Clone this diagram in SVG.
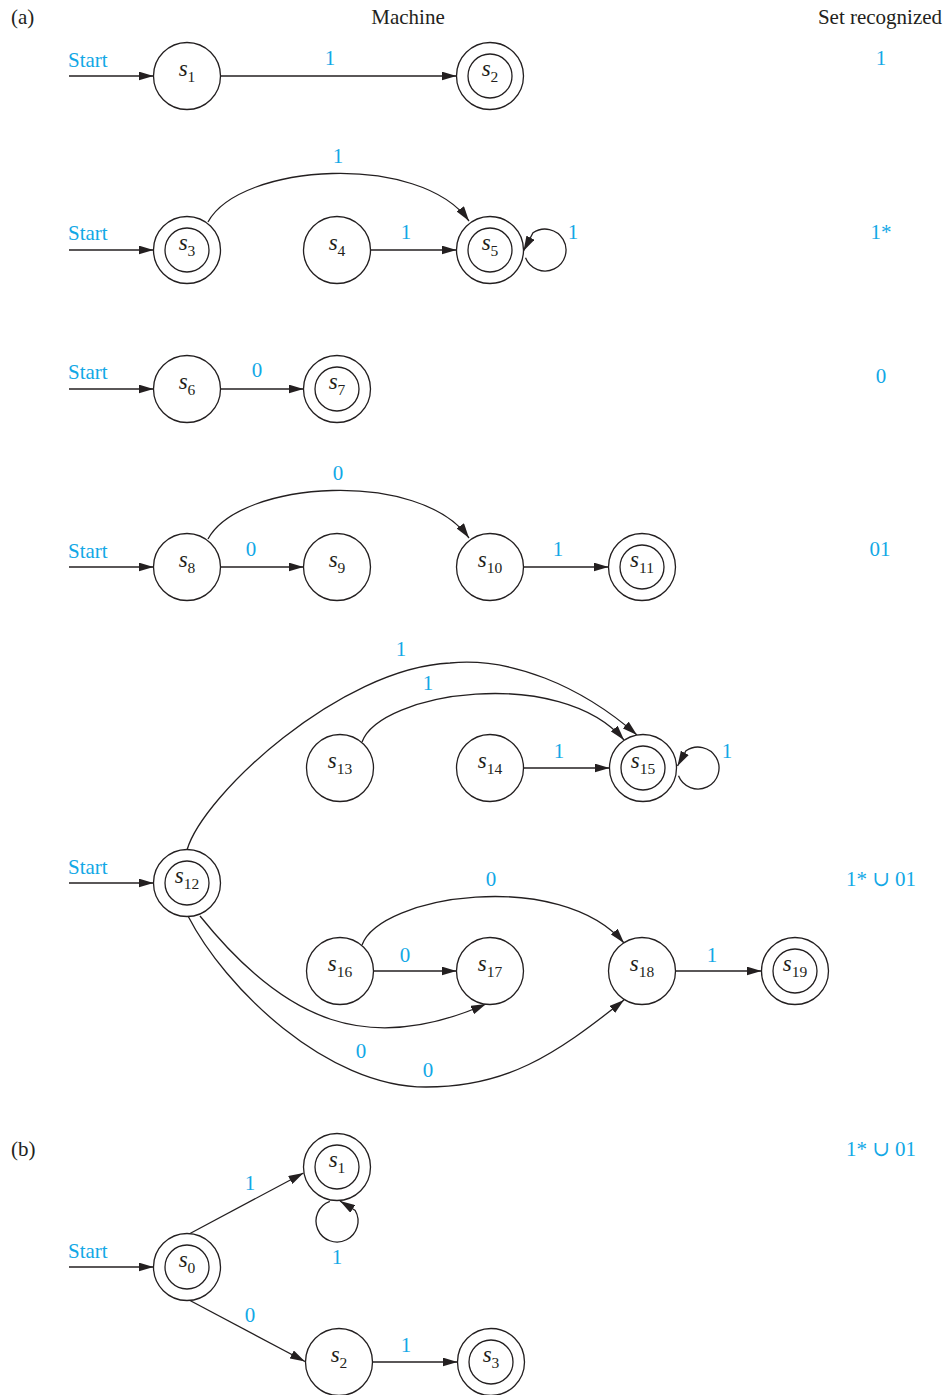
<svg xmlns="http://www.w3.org/2000/svg" width="950" height="1395" viewBox="0 0 950 1395">
<defs>
<marker id="a" markerWidth="15" markerHeight="9" refX="15" refY="4.5" orient="auto" markerUnits="userSpaceOnUse"><path d="M0,0 L15,4.5 L0,9 z" fill="#231f20"/></marker>
<style>
.e{fill:none;stroke:#231f20;stroke-width:1.3;marker-end:url(#a)}
.c{fill:#fff;stroke:#231f20;stroke-width:1.3}
.i{fill:none;stroke:#231f20;stroke-width:1.3}
.t{font-family:"Liberation Serif","DejaVu Serif",serif;font-size:21px;fill:#231f20}
.l{font-family:"Liberation Serif","DejaVu Serif",serif;font-size:21px;fill:#12a8e6;text-anchor:middle}
.s{font-family:"Liberation Serif","DejaVu Serif",serif;font-size:21px;fill:#12a8e6}
.n{font-family:"Liberation Serif","DejaVu Serif",serif;font-size:23px;fill:#231f20;text-anchor:middle}
.n .v{font-style:italic}
.n .b{font-size:15.5px}
</style>
</defs>
<rect width="950" height="1395" fill="#fff"/>
<g id="headers">
<text class="t" x="11" y="24">(a)</text>
<text class="t" x="408" y="24" text-anchor="middle">Machine</text>
<text class="t" x="880" y="24" text-anchor="middle">Set recognized</text>
<text class="t" x="11" y="1156">(b)</text>
</g>
<g id="sets">
<text class="l" x="881" y="65">1</text>
<text class="l" x="881" y="239">1*</text>
<text class="l" x="881" y="383">0</text>
<text class="l" x="880" y="556">01</text>
<text class="l" x="881" y="886">1* ∪ 01</text>
<text class="l" x="881" y="1156">1* ∪ 01</text>
</g>
<g id="connectors">
<path class="e" d="M69,76 H153.5"/>
<path class="e" d="M220.5,76 H456.5"/>
<path class="e" d="M69,250 H153.5"/>
<path class="e" d="M208,222 C240,163 420,152 469,221"/>
<path class="e" d="M370.5,250 H456.5"/>
<path class="e" d="M525.5,257.8 A21,21 0 1,0 533,232.8 L523.5,251"/>
<path class="e" d="M69,389 H153.5"/>
<path class="e" d="M220.5,389 H303.5"/>
<path class="e" d="M69,567 H153.5"/>
<path class="e" d="M220.5,567 H303.5"/>
<path class="e" d="M208,539 C240,480 420,469 469,538"/>
<path class="e" d="M523.5,567 H608.5"/>
<path class="e" d="M187,850 C203,795 340,668 450,663 C510,657 580,685 637,735"/>
<path class="e" d="M362,742 C380,692 560,665 624,740"/>
<path class="e" d="M523.5,768 H609.5"/>
<path class="e" d="M678.5,775.8 A21,21 0 1,0 686,750.8 L677.5,766"/>
<path class="e" d="M69,883 H153.5"/>
<path class="e" d="M373.5,971 H456.5"/>
<path class="e" d="M362,945 C380,895 560,868 624,943"/>
<path class="e" d="M675.5,971 H761.5"/>
<path class="e" d="M200,916 C285,1022 368,1056 486,1004"/>
<path class="e" d="M188,916 C224.5,987.2 326,1087 426,1087 C506,1087 554,1056 624,1000"/>
<path class="e" d="M69,1267 H153.5"/>
<path class="e" d="M190,1233.5 L303.5,1173"/>
<path class="e" d="M329.8,1201.3 A21,21 0 1,0 355.2,1210.5 L340,1201"/>
<path class="e" d="M190,1300.5 L305,1361.5"/>
<path class="e" d="M373,1362 H457.5"/>
</g>
<g id="edge-labels">
<text class="s" x="68" y="67">Start</text>
<text class="s" x="68" y="240">Start</text>
<text class="s" x="68" y="379">Start</text>
<text class="s" x="68" y="558">Start</text>
<text class="s" x="68" y="874">Start</text>
<text class="s" x="68" y="1258">Start</text>
<text class="l" x="330" y="65">1</text>
<text class="l" x="338" y="163">1</text>
<text class="l" x="406" y="239">1</text>
<text class="l" x="573" y="239">1</text>
<text class="l" x="257" y="377">0</text>
<text class="l" x="338" y="480">0</text>
<text class="l" x="251" y="556">0</text>
<text class="l" x="558" y="556">1</text>
<text class="l" x="401" y="656">1</text>
<text class="l" x="428" y="690">1</text>
<text class="l" x="559" y="758">1</text>
<text class="l" x="727" y="758">1</text>
<text class="l" x="491" y="886">0</text>
<text class="l" x="405" y="962">0</text>
<text class="l" x="712" y="962">1</text>
<text class="l" x="361" y="1058">0</text>
<text class="l" x="428" y="1077">0</text>
<text class="l" x="250" y="1190">1</text>
<text class="l" x="337" y="1264">1</text>
<text class="l" x="250" y="1322">0</text>
<text class="l" x="406" y="1352">1</text>
</g>
<g id="s1"><circle class="c" cx="187" cy="76" r="33.5"/><text class="n" x="187" y="75.5"><tspan class="v">s</tspan><tspan class="b" dy="6">1</tspan></text></g>
<g id="s2"><circle class="c" cx="490" cy="76" r="33.5"/><circle class="i" cx="490" cy="76" r="22"/><text class="n" x="490" y="75.5"><tspan class="v">s</tspan><tspan class="b" dy="6">2</tspan></text></g>
<g id="s3"><circle class="c" cx="187" cy="250" r="33.5"/><circle class="i" cx="187" cy="250" r="22"/><text class="n" x="187" y="249.5"><tspan class="v">s</tspan><tspan class="b" dy="6">3</tspan></text></g>
<g id="s4"><circle class="c" cx="337" cy="250" r="33.5"/><text class="n" x="337" y="249.5"><tspan class="v">s</tspan><tspan class="b" dy="6">4</tspan></text></g>
<g id="s5"><circle class="c" cx="490" cy="250" r="33.5"/><circle class="i" cx="490" cy="250" r="22"/><text class="n" x="490" y="249.5"><tspan class="v">s</tspan><tspan class="b" dy="6">5</tspan></text></g>
<g id="s6"><circle class="c" cx="187" cy="389" r="33.5"/><text class="n" x="187" y="388.5"><tspan class="v">s</tspan><tspan class="b" dy="6">6</tspan></text></g>
<g id="s7"><circle class="c" cx="337" cy="389" r="33.5"/><circle class="i" cx="337" cy="389" r="22"/><text class="n" x="337" y="388.5"><tspan class="v">s</tspan><tspan class="b" dy="6">7</tspan></text></g>
<g id="s8"><circle class="c" cx="187" cy="567" r="33.5"/><text class="n" x="187" y="566.5"><tspan class="v">s</tspan><tspan class="b" dy="6">8</tspan></text></g>
<g id="s9"><circle class="c" cx="337" cy="567" r="33.5"/><text class="n" x="337" y="566.5"><tspan class="v">s</tspan><tspan class="b" dy="6">9</tspan></text></g>
<g id="s10"><circle class="c" cx="490" cy="567" r="33.5"/><text class="n" x="490" y="566.5"><tspan class="v">s</tspan><tspan class="b" dy="6">10</tspan></text></g>
<g id="s11"><circle class="c" cx="642" cy="567" r="33.5"/><circle class="i" cx="642" cy="567" r="22"/><text class="n" x="642" y="566.5"><tspan class="v">s</tspan><tspan class="b" dy="6">11</tspan></text></g>
<g id="s13"><circle class="c" cx="340" cy="768" r="33.5"/><text class="n" x="340" y="767.5"><tspan class="v">s</tspan><tspan class="b" dy="6">13</tspan></text></g>
<g id="s14"><circle class="c" cx="490" cy="768" r="33.5"/><text class="n" x="490" y="767.5"><tspan class="v">s</tspan><tspan class="b" dy="6">14</tspan></text></g>
<g id="s15"><circle class="c" cx="643" cy="768" r="33.5"/><circle class="i" cx="643" cy="768" r="22"/><text class="n" x="643" y="767.5"><tspan class="v">s</tspan><tspan class="b" dy="6">15</tspan></text></g>
<g id="s12"><circle class="c" cx="187" cy="883" r="33.5"/><circle class="i" cx="187" cy="883" r="22"/><text class="n" x="187" y="882.5"><tspan class="v">s</tspan><tspan class="b" dy="6">12</tspan></text></g>
<g id="s16"><circle class="c" cx="340" cy="971" r="33.5"/><text class="n" x="340" y="970.5"><tspan class="v">s</tspan><tspan class="b" dy="6">16</tspan></text></g>
<g id="s17"><circle class="c" cx="490" cy="971" r="33.5"/><text class="n" x="490" y="970.5"><tspan class="v">s</tspan><tspan class="b" dy="6">17</tspan></text></g>
<g id="s18"><circle class="c" cx="642" cy="971" r="33.5"/><text class="n" x="642" y="970.5"><tspan class="v">s</tspan><tspan class="b" dy="6">18</tspan></text></g>
<g id="s19"><circle class="c" cx="795" cy="971" r="33.5"/><circle class="i" cx="795" cy="971" r="22"/><text class="n" x="795" y="970.5"><tspan class="v">s</tspan><tspan class="b" dy="6">19</tspan></text></g>
<g id="b-s1"><circle class="c" cx="337" cy="1167" r="33.5"/><circle class="i" cx="337" cy="1167" r="22"/><text class="n" x="337" y="1166.5"><tspan class="v">s</tspan><tspan class="b" dy="6">1</tspan></text></g>
<g id="b-s0"><circle class="c" cx="187" cy="1267" r="33.5"/><circle class="i" cx="187" cy="1267" r="22"/><text class="n" x="187" y="1266.5"><tspan class="v">s</tspan><tspan class="b" dy="6">0</tspan></text></g>
<g id="b-s2"><circle class="c" cx="339" cy="1362" r="33.5"/><text class="n" x="339" y="1361.5"><tspan class="v">s</tspan><tspan class="b" dy="6">2</tspan></text></g>
<g id="b-s3"><circle class="c" cx="491" cy="1362" r="33.5"/><circle class="i" cx="491" cy="1362" r="22"/><text class="n" x="491" y="1361.5"><tspan class="v">s</tspan><tspan class="b" dy="6">3</tspan></text></g>
</svg>
